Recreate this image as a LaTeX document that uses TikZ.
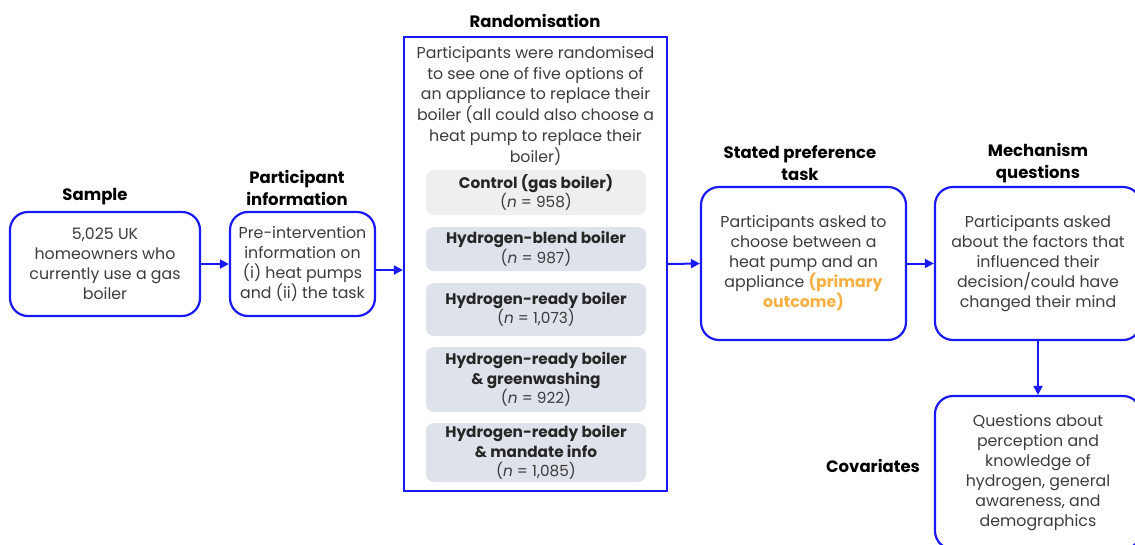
\documentclass[tikz,border=0pt]{standalone}
\usepackage{fontspec}
\setmainfont{Poppins}
\usetikzlibrary{arrows.meta}
\definecolor{bblue}{RGB}{25,25,245}
\definecolor{txt}{RGB}{60,60,60}
\definecolor{orng}{RGB}{245,176,65}
\definecolor{ctrlfill}{RGB}{239,239,239}
\definecolor{grpfill}{RGB}{222,226,234}
\begin{document}
\begin{tikzpicture}[x=1pt,y=-1pt,
 box/.style={draw=bblue, line width=2.2pt, rounded corners=18pt, text=txt, align=center,
   font=\fontsize{15.8}{20}\selectfont, inner sep=0pt},
 rbox/.style={draw=bblue, line width=2.2pt, inner sep=0pt},
 body/.style={text=txt, align=center, font=\fontsize{15.8}{20.8}\selectfont, inner sep=0pt},
 ttl/.style={font=\fontsize{16.5}{21.5}\selectfont\bfseries, align=center, text=black, inner sep=0pt},
 grpbox/.style={fill=grpfill, rounded corners=8pt, align=center, text=txt,
   font=\fontsize{15.3}{19.5}\selectfont, minimum width=220pt, inner sep=0pt},
 arr/.style={draw=bblue, line width=2pt, -{Triangle[length=9pt,width=9pt]}}
]
\useasboundingbox (0,0) rectangle (1135,544);
\clip (0,0) rectangle (1135,544);

% titles
\node[ttl] (tsample) at (95,197) {Sample};
\node[ttl] (tpinfo) at (297,188) {Participant\\information};
\node[ttl] (trand) at (535,21) {Randomisation};
\node[ttl] (tsp) at (800,163) {Stated preference\\task};
\node[ttl] (tmech) at (1038,163) {Mechanism\\questions};
\node[ttl] (tcov) at (873,466) {Covariates};

% boxes
\node[box, minimum width=190pt, minimum height=104pt] (sample) at (105,264)
  {5,025 UK\\homeowners who\\currently use a gas\\boiler};
\node[box, minimum width=145pt, minimum height=104pt] (pinfo) at (302.5,264)
  {Pre-intervention\\information on\\(i) heat pumps\\and (ii) the task};
\node[rbox, minimum width=263pt, minimum height=454pt] (rand) at (535.5,264) {};
\node[body, anchor=north] (randtext) at (535.5,46)
  {Participants were randomised\\to see one of five options of\\an appliance to replace their\\boiler (all could also choose a\\heat pump to replace their\\boiler)};

\node[grpbox, fill=ctrlfill, minimum height=45pt] (g1) at (536,192.5)
  {\textbf{\color{black!85}Control (gas boiler)}\\(\textit{n} = 958)};
\node[grpbox, minimum height=44pt] (g2) at (536,249)
  {\textbf{\color{black!85}Hydrogen-blend boiler}\\(\textit{n} = 987)};
\node[grpbox, minimum height=53pt] (g3) at (536,309.5)
  {\textbf{\color{black!85}Hydrogen-ready boiler}\\(\textit{n} = 1,073)};
\node[grpbox, minimum height=65pt] (g4) at (536,379.5)
  {\textbf{\color{black!85}Hydrogen-ready boiler}\\\textbf{\color{black!85}\& greenwashing}\\(\textit{n} = 922)};
\node[grpbox, minimum height=59pt] (g5) at (536,452.5)
  {\textbf{\color{black!85}Hydrogen-ready boiler}\\\textbf{\color{black!85}\& mandate info}\\(\textit{n} = 1,085)};

\node[box, minimum width=205pt, minimum height=153pt] (sp) at (803.5,263.5)
  {Participants asked to\\choose between a\\heat pump and an\\appliance \textcolor{orng}{\bfseries(primary}\\\textcolor{orng}{\bfseries outcome)}};
\node[box, minimum width=206pt, minimum height=153pt] (mech) at (1038,263.5)
  {Participants asked\\about the factors that\\influenced their\\decision/could have\\changed their mind};
\node[box, minimum width=206pt, minimum height=153pt] (cov) at (1038,472.5)
  {Questions about\\perception and\\knowledge of\\hydrogen, general\\awareness, and\\demographics};

% arrows
\draw[arr] (sample.east) -- (pinfo.west);
\draw[arr] ([yshift=-6pt]pinfo.east) -- ([yshift=-6pt]rand.west);
\draw[arr] (rand.east) -- (sp.west);
\draw[arr] (sp.east) -- (mech.west);
\draw[arr] (mech.south) -- (cov.north);
\end{tikzpicture}
\end{document}
